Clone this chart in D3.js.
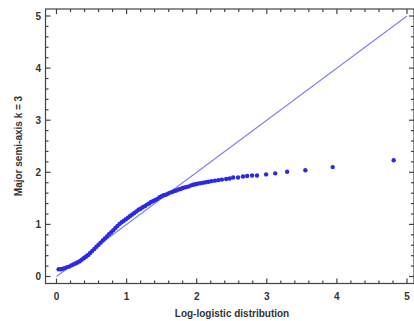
<!DOCTYPE html>
<html>
<head>
<meta charset="utf-8">
<script src="https://cdn.jsdelivr.net/npm/d3@7"></script>
<style>
  html, body { margin: 0; padding: 0; background: #fff; }
  svg { display: block; }
  text { font-family: "Liberation Sans", Arial, sans-serif; font-weight: bold; fill: #333; }
</style>
</head>
<body>
<svg id="chart" width="414" height="321"></svg>
<script>
// Quantile pairs: x = Log-logistic theoretical quantile, y = observed major semi-axis (k = 3)
const xValues = [
  0.03, 0.06, 0.09, 0.12, 0.15, 0.18, 0.21, 0.24, 0.27, 0.30,
  0.33, 0.36, 0.39, 0.42, 0.45, 0.48, 0.51, 0.54, 0.57, 0.60,
  0.63, 0.66, 0.69, 0.72, 0.75, 0.78, 0.81, 0.84, 0.87, 0.90,
  0.93, 0.96, 0.99, 1.02, 1.05, 1.08, 1.11, 1.14, 1.17, 1.20,
  1.23, 1.26, 1.29, 1.32, 1.35, 1.38, 1.41, 1.44, 1.47, 1.50,
  1.53, 1.56, 1.59, 1.62, 1.65, 1.68, 1.71, 1.74, 1.77, 1.80,
  1.83, 1.86, 1.89, 1.92, 1.95, 1.98, 2.01, 2.05, 2.09, 2.13,
  2.17, 2.21, 2.26, 2.31, 2.36, 2.42, 2.47,
  2.52, 2.59, 2.66, 2.72, 2.79, 2.86, 2.99, 3.12, 3.29, 3.55, 3.94, 4.81
];
const yValues = [
  0.14, 0.14, 0.15, 0.16, 0.18, 0.19, 0.21, 0.23, 0.25, 0.27,
  0.29, 0.32, 0.35, 0.38, 0.41, 0.45, 0.49, 0.53, 0.57, 0.61,
  0.65, 0.69, 0.73, 0.77, 0.81, 0.85, 0.89, 0.93, 0.97, 1.01,
  1.04, 1.07, 1.10, 1.13, 1.16, 1.19, 1.22, 1.25, 1.28, 1.30,
  1.33, 1.35, 1.38, 1.40, 1.43, 1.45, 1.47, 1.49, 1.52, 1.54,
  1.56, 1.57, 1.59, 1.61, 1.62, 1.64, 1.65, 1.67, 1.68, 1.70,
  1.71, 1.72, 1.73, 1.75, 1.76, 1.77, 1.78, 1.79, 1.80, 1.81,
  1.82, 1.83, 1.84, 1.85, 1.86, 1.87, 1.88,
  1.90, 1.90, 1.92, 1.93, 1.94, 1.94, 1.96, 1.98, 2.01, 2.04, 2.10, 2.23
];
// Reference line y = x
const refLine = [[0, 0], [5, 5]];
const xTicks = [0, 1, 2, 3, 4, 5];
const yTicks = [0, 1, 2, 3, 4, 5];
const xLabel = "Log-logistic distribution";
const yLabel = "Major semi-axis k = 3";

const svg = d3.select("#chart");
const frame = { left: 45.5, right: 414, top: 9, bottom: 283.5 };

const x = d3.scaleLinear().domain([0, 5]).range([56.5, 407]);
const y = d3.scaleLinear().domain([0, 5]).range([276.5, 16]);

const minorX = d3.range(0, 5.01, 0.2).filter(v => !xTicks.some(t => Math.abs(t - v) < 1e-6));
const minorY = d3.range(0, 5.01, 0.2).filter(v => !yTicks.some(t => Math.abs(t - v) < 1e-6));

const axisColor = "#444";

// Reference line
svg.append("line")
  .attr("x1", x(refLine[0][0])).attr("y1", y(refLine[0][1]))
  .attr("x2", x(refLine[1][0])).attr("y2", y(refLine[1][1]))
  .attr("stroke", "#7f7fee").attr("stroke-width", 1.1);

// Points
svg.append("g").selectAll("circle")
  .data(xValues.map((v, i) => [v, yValues[i]]))
  .join("circle")
  .attr("cx", d => x(d[0]))
  .attr("cy", d => y(d[1]))
  .attr("r", 2.2)
  .attr("fill", "#2a2ae6");

// Frame
const g = svg.append("g").attr("stroke", axisColor).attr("stroke-width", 1.2);
g.append("rect")
  .attr("x", frame.left).attr("y", frame.top)
  .attr("width", frame.right - frame.left).attr("height", frame.bottom - frame.top)
  .attr("fill", "none");

// Bottom & top ticks (inward)
const majorLen = 5, minorLen = 3;
xTicks.forEach(t => {
  g.append("line").attr("x1", x(t)).attr("x2", x(t)).attr("y1", frame.bottom).attr("y2", frame.bottom - majorLen);
  g.append("line").attr("x1", x(t)).attr("x2", x(t)).attr("y1", frame.top).attr("y2", frame.top + majorLen);
});
minorX.forEach(t => {
  g.append("line").attr("x1", x(t)).attr("x2", x(t)).attr("y1", frame.bottom).attr("y2", frame.bottom - minorLen);
  g.append("line").attr("x1", x(t)).attr("x2", x(t)).attr("y1", frame.top).attr("y2", frame.top + minorLen);
});
// Left & right ticks (inward)
yTicks.forEach(t => {
  g.append("line").attr("y1", y(t)).attr("y2", y(t)).attr("x1", frame.left).attr("x2", frame.left + majorLen);
  g.append("line").attr("y1", y(t)).attr("y2", y(t)).attr("x1", frame.right).attr("x2", frame.right - majorLen);
});
minorY.forEach(t => {
  g.append("line").attr("y1", y(t)).attr("y2", y(t)).attr("x1", frame.left).attr("x2", frame.left + minorLen);
  g.append("line").attr("y1", y(t)).attr("y2", y(t)).attr("x1", frame.right).attr("x2", frame.right - minorLen);
});

// Tick labels
svg.append("g").selectAll("text").data(xTicks).join("text")
  .attr("x", d => x(d)).attr("y", 300)
  .attr("text-anchor", "middle").attr("font-size", 10)
  .text(d => d);
svg.append("g").selectAll("text").data(yTicks).join("text")
  .attr("x", 41).attr("y", d => y(d) + 3.5)
  .attr("text-anchor", "end").attr("font-size", 10)
  .text(d => d);

// Axis titles
svg.append("text")
  .attr("x", 232).attr("y", 317)
  .attr("text-anchor", "middle").attr("font-size", 10)
  .text(xLabel);
svg.append("text")
  .attr("transform", "translate(22,146) rotate(-90)")
  .attr("text-anchor", "middle").attr("font-size", 10)
  .text(yLabel);
</script>
</body>
</html>
